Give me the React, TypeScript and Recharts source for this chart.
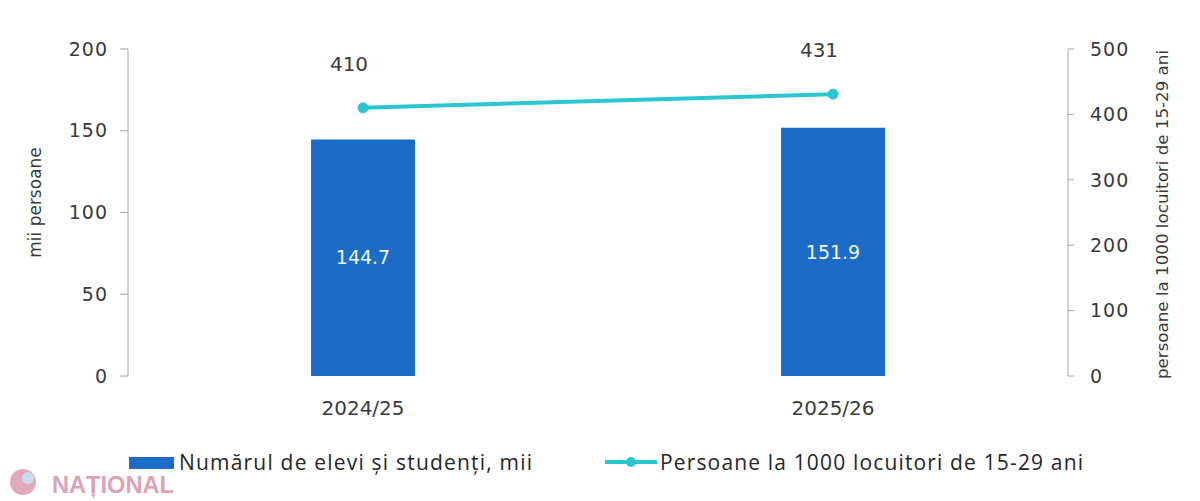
import React from "react";
import {
  ComposedChart,
  Bar,
  Line,
  XAxis,
  YAxis,
  LabelList,
  Legend,
} from "recharts";

const years = ["2024/25", "2025/26"];
const students = [144.7, 151.9];
const per1000 = [410, 431];
const leftTicks = [0, 50, 100, 150, 200];
const rightTicks = [0, 100, 200, 300, 400, 500];
const gridTicks = [0, 1, 2];

const barName = "Numărul de elevi și studenți, mii";
const lineName = "Persoane la 1000 locuitori de 15-29 ani";

const data = years.map((y, i) => ({ year: y, students: students[i], per1000: per1000[i] }));

const BAR_COLOR = "#1A6CC6";
const LINE_COLOR = "#2CC6D0";
const AXIS_COLOR = "#A6A6A6";
const TEXT_COLOR = "#3A3A3A";
const FONT = "'DejaVu Sans', sans-serif";

const LegendContent = () => (
  <div style={{ position: "relative", width: 1200, height: 60, fontFamily: "'Open Sans', sans-serif" }}>
    <svg width={1200} height={60} style={{ position: "absolute", left: 0, top: 0 }}>
      <circle cx={23} cy={42} r={13} fill="#E2A9BB" />
      <circle cx={28} cy={38} r={6} fill="#C9DCEB" />
      <text x={52} y={53} fontFamily="'Liberation Sans', sans-serif" fontWeight="bold" fontSize={24} fill="#DCA3B6" textLength={122} lengthAdjust="spacingAndGlyphs">
        NAȚIONAL
      </text>
      <rect x={129} y={17} width={45} height={12} fill={BAR_COLOR} />
      <text x={179} y={30} fontSize={21} fill="#262626" fontFamily="'Open Sans', sans-serif" textLength={353} lengthAdjust="spacing">
        {barName}
      </text>
      <line x1={605} y1={22} x2={657} y2={22} stroke={LINE_COLOR} strokeWidth={4} />
      <circle cx={631} cy={22} r={5} fill={LINE_COLOR} />
      <text x={660} y={30} fontSize={21} fill="#262626" fontFamily="'Open Sans', sans-serif" textLength={423} lengthAdjust="spacing">
        {lineName}
      </text>
    </svg>
  </div>
);

const LineLabel = (props: any) => {
  const { x, y, value } = props;
  return (
    <text x={x - 14} y={y - 44} textAnchor="middle" dominantBaseline="central" fontSize={20} fill={TEXT_COLOR} fontFamily={FONT}>
      {value}
    </text>
  );
};

const LeftTitle = (props: any) => {
  const { viewBox } = props;
  const cx = viewBox.x + 35;
  const cy = viewBox.y + viewBox.height / 2 - 10;
  return (
    <text x={cx} y={cy} transform={`rotate(-90 ${cx} ${cy})`} textAnchor="middle" dominantBaseline="central" fontSize={17} fill={TEXT_COLOR} fontFamily={FONT}>
      mii persoane
    </text>
  );
};

const RightTitle = (props: any) => {
  const { viewBox } = props;
  const cx = viewBox.x + 94;
  const cy = viewBox.y + viewBox.height / 2 + 2;
  return (
    <text x={cx} y={cy} transform={`rotate(-90 ${cx} ${cy})`} textAnchor="middle" dominantBaseline="central" fontSize={16.7} fill={TEXT_COLOR} fontFamily={FONT}>
      persoane la 1000 locuitori de 15-29 ani
    </text>
  );
};

export default function App() {
  return (
    <div style={{ position: "absolute", left: 0, top: 0, width: 1200, height: 501, background: "#fff" }}>
      <ComposedChart width={1200} height={501} data={data} margin={{ top: 49, right: 0, bottom: 20, left: 0 }}>
        <XAxis
          xAxisId="grid"
          type="number"
          domain={[0, 2]}
          ticks={gridTicks}
          tick={false}
          tickSize={8}
          height={0}
          axisLine={{ stroke: AXIS_COLOR }}
          tickLine={{ stroke: AXIS_COLOR }}
        />
        <XAxis
          xAxisId="cat"
          dataKey="year"
          axisLine={false}
          tickLine={false}
          height={55}
          tickMargin={19}
          tick={{ fontSize: 20, fill: TEXT_COLOR, fontFamily: FONT }}
        />
        <YAxis
          yAxisId="left"
          domain={[0, 200]}
          ticks={leftTicks}
          width={128}
          tickSize={8}
          tickMargin={12}
          axisLine={{ stroke: AXIS_COLOR }}
          tickLine={{ stroke: AXIS_COLOR }}
          tick={{ fontSize: 19, fill: TEXT_COLOR, fontFamily: FONT, letterSpacing: 1 }}
          label={<LeftTitle />}
        />
        <YAxis
          yAxisId="right"
          orientation="right"
          domain={[0, 500]}
          ticks={rightTicks}
          width={132}
          tickSize={6}
          tickMargin={16}
          axisLine={{ stroke: AXIS_COLOR }}
          tickLine={{ stroke: AXIS_COLOR }}
          tick={{ fontSize: 19, fill: TEXT_COLOR, fontFamily: FONT, letterSpacing: 1 }}
          label={<RightTitle />}
        />
        <Legend
          content={<LegendContent />}
          wrapperStyle={{ position: "absolute", left: 0, top: 440, width: 1200, height: 50 }}
        />
        <Bar
          xAxisId="cat"
          yAxisId="left"
          dataKey="students"
          name={barName}
          fill={BAR_COLOR}
          barSize={104}
          isAnimationActive={false}
        >
          <LabelList dataKey="students" position="center" fill="#F2F6FB" fontSize={19} fontFamily={FONT} />
        </Bar>
        <Line
          xAxisId="cat"
          yAxisId="right"
          dataKey="per1000"
          name={lineName}
          stroke={LINE_COLOR}
          strokeWidth={4}
          dot={{ r: 5, fill: LINE_COLOR, stroke: LINE_COLOR, strokeWidth: 1 }}
          isAnimationActive={false}
        >
          <LabelList dataKey="per1000" content={<LineLabel />} />
        </Line>
      </ComposedChart>
    </div>
  );
}
